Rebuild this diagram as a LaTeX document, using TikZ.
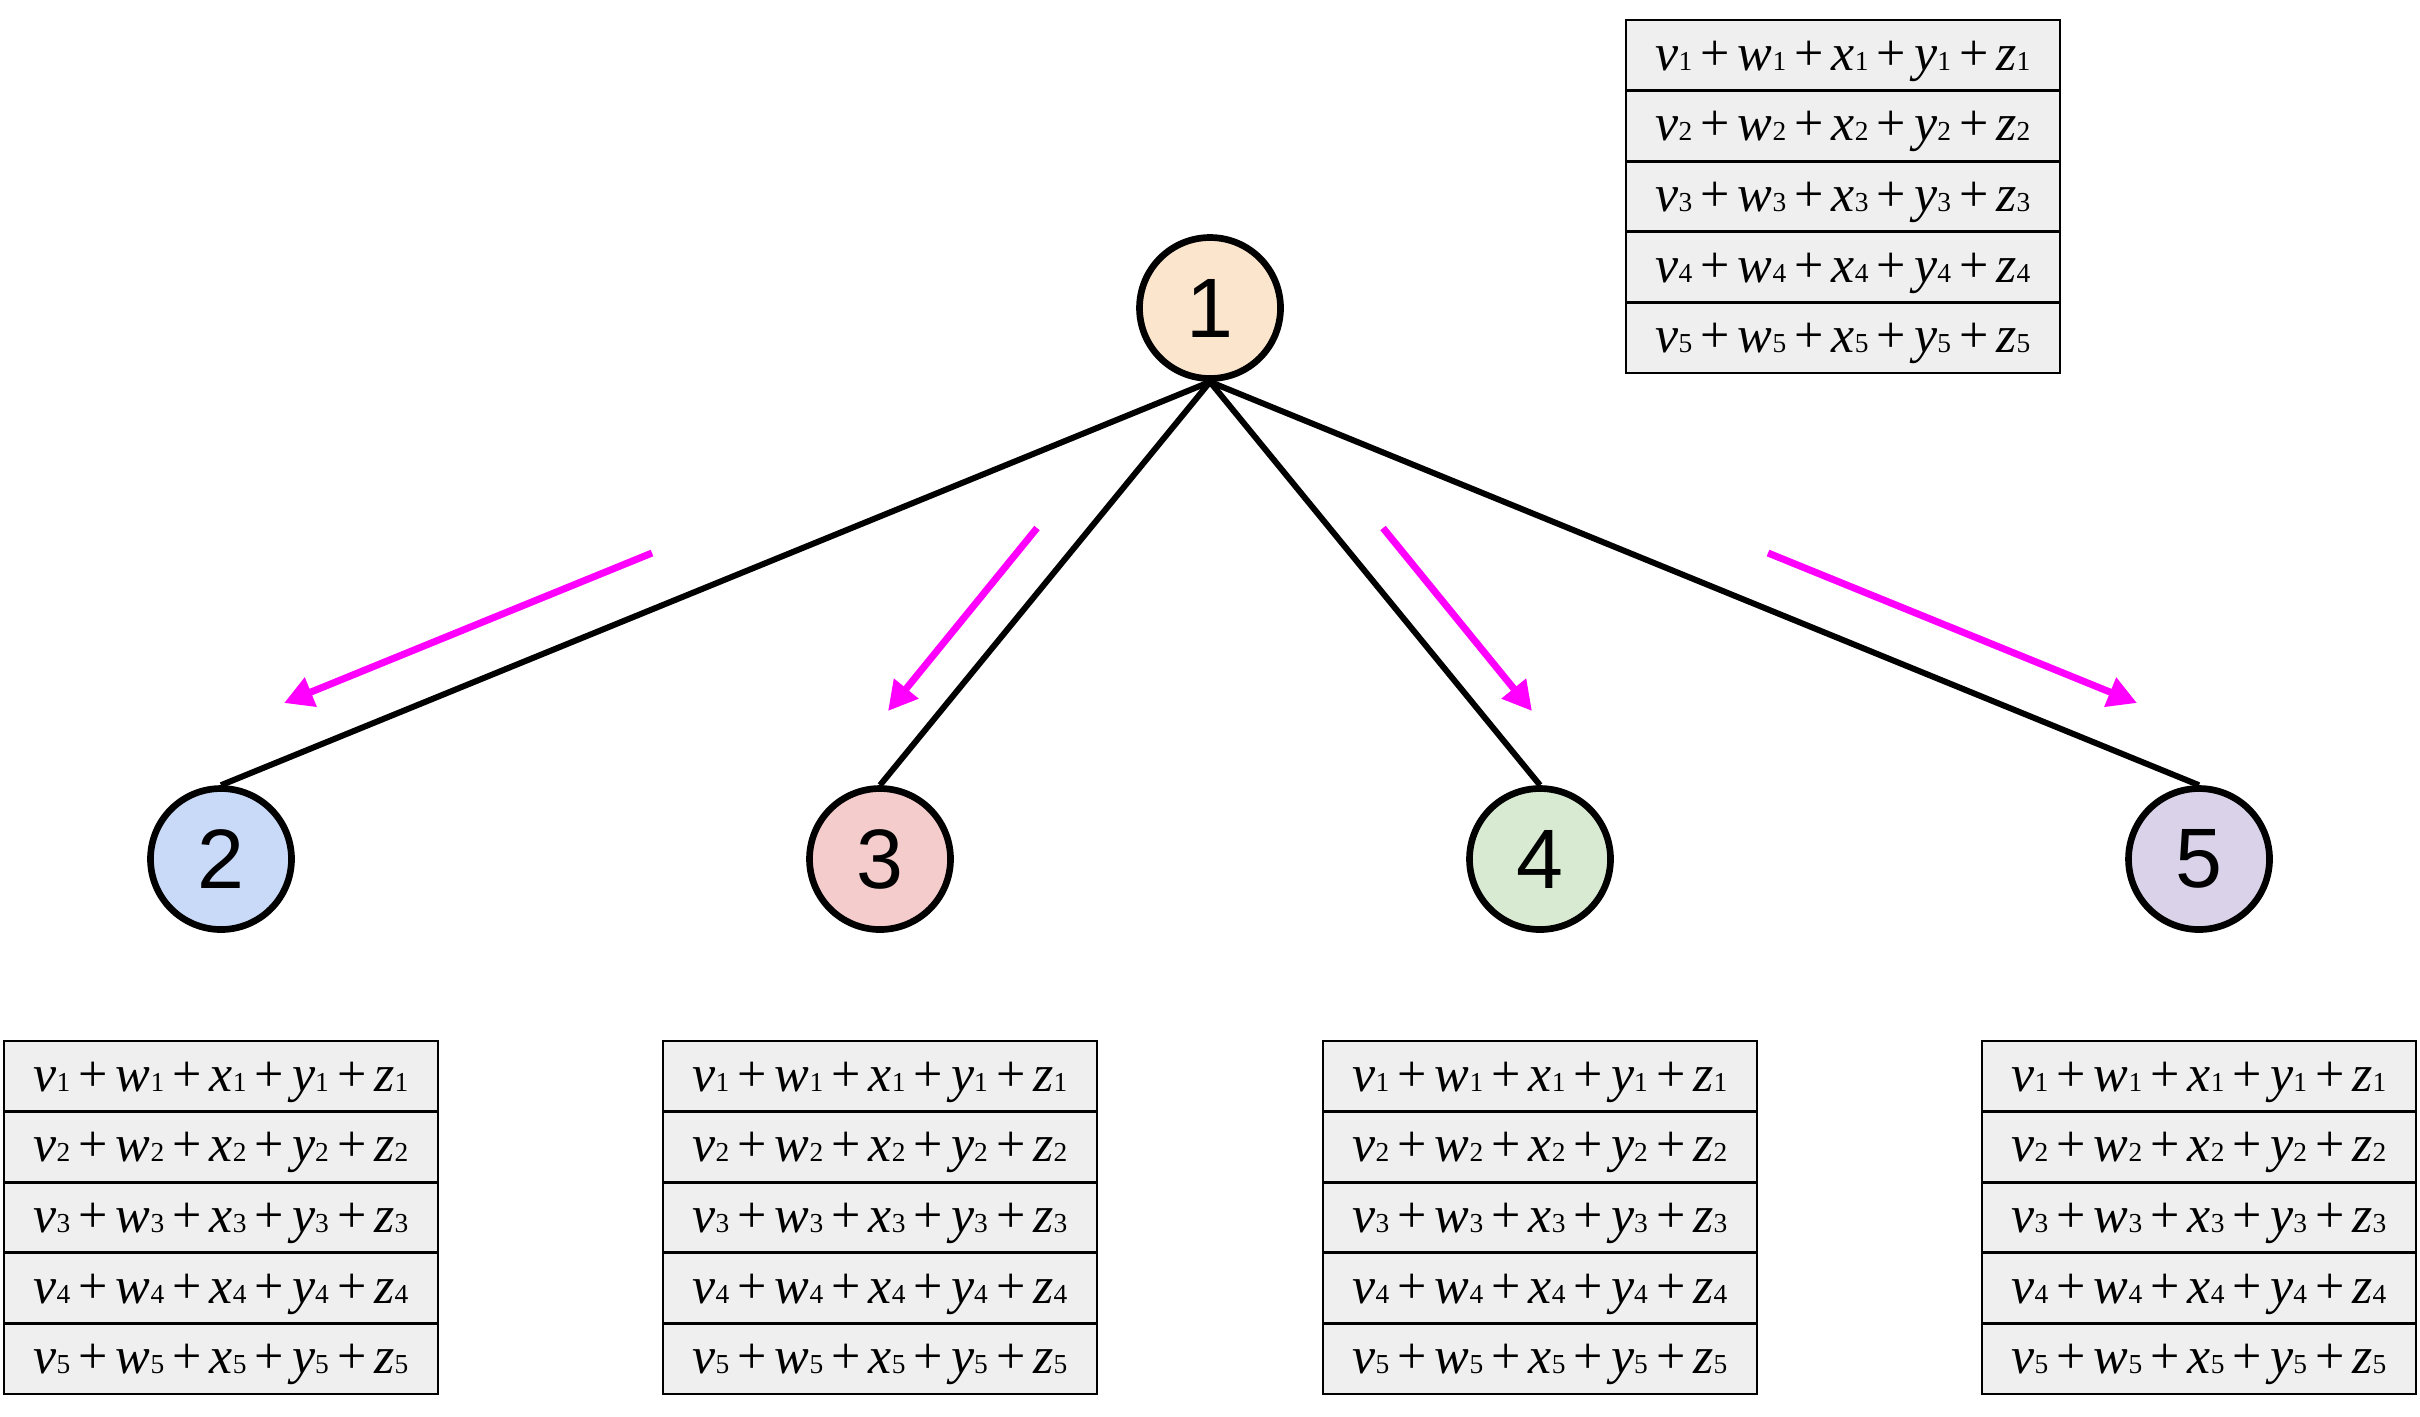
\documentclass[tikz,border=0pt]{standalone}
\usepackage{fontspec}
\setmainfont{Liberation Serif}
\newfontfamily\digitfont{Liberation Sans}
\usepackage{tikz}
\usetikzlibrary{arrows.meta}

\definecolor{peach}{HTML}{FCE5CD}
\definecolor{skyblue}{HTML}{C9DAF8}
\definecolor{rose}{HTML}{F4CCCC}
\definecolor{mint}{HTML}{D9EAD3}
\definecolor{lavender}{HTML}{D9D2E9}
\definecolor{cellgray}{HTML}{EFEFEF}
\definecolor{flowpink}{HTML}{FF00FF}

\newcommand{\idx}[1]{{\fontsize{7.8}{8}\selectfont #1}}
\newcommand{\pl}{\hspace{2.3pt}+\hspace{2.3pt}}
\newcommand{\sumrow}[1]{\textit{v}\idx{#1}\pl\textit{w}\idx{#1}\pl\textit{x}\idx{#1}\pl\textit{y}\idx{#1}\pl\textit{z}\idx{#1}}

\tikzset{
  vertex/.style={circle, draw=black, line width=1.9pt, minimum size=1.41cm, inner sep=0pt,
    font=\digitfont\fontsize{24}{24}\selectfont},
  cell/.style={draw=black, fill=cellgray, line width=0.8pt, minimum width=4.34cm,
    minimum height=0.706cm, inner sep=0pt, outer sep=0pt, text height=0.5cm, text depth=0.2cm,
    font=\fontsize{14.8}{16}\selectfont},
  edge/.style={line width=1.7pt},
  flow/.style={draw=flowpink, line width=2pt, -{Triangle[length=0.29cm,width=0.30cm]}}
}

\begin{document}
\begin{tikzpicture}
  \useasboundingbox (0,0) rectangle (24.2,-14.16);

  \node[vertex, fill=peach] (n1) at (12.10,-3.08) {1};
  \node[vertex, fill=skyblue] (n2) at (2.21,-8.59) {2};
  \node[vertex, fill=rose] (n3) at (8.80,-8.59) {3};
  \node[vertex, fill=mint] (n4) at (15.40,-8.59) {4};
  \node[vertex, fill=lavender] (n5) at (21.99,-8.59) {5};

  \foreach \k in {2,...,5}
  {
    \draw[edge] (n1.south) -- (n\k.north);
  }

  % tables, one row per node
  \foreach \t/\cx/\ty in {1/18.43/0.20, 2/2.21/10.41, 3/8.80/10.41, 4/15.40/10.41, 5/21.99/10.41}
    \foreach \r in {1,...,5}
    {
      \node[cell] (tab\t r\r) at (\cx, -\ty-\r*0.706+0.353) {\sumrow{\r}};
    }

  \coordinate (f2a) at (6.52,-5.53);
  \coordinate (f2b) at (2.84,-7.03);
  \coordinate (f3a) at (10.37,-5.28);
  \coordinate (f3b) at (8.88,-7.11);
  \coordinate (f4a) at (13.83,-5.28);
  \coordinate (f4b) at (15.32,-7.11);
  \coordinate (f5a) at (17.68,-5.53);
  \coordinate (f5b) at (21.37,-7.03);

  \draw[flow] (f2a) -- (f2b);
  \draw[flow] (f3a) -- (f3b);
  \draw[flow] (f4a) -- (f4b);
  \draw[flow] (f5a) -- (f5b);
\end{tikzpicture}
\end{document}
